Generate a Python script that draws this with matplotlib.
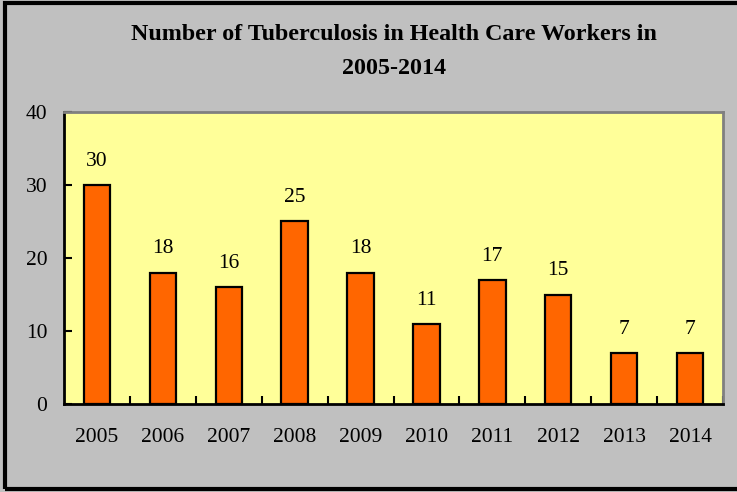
import matplotlib
matplotlib.use("Agg")
import matplotlib.pyplot as plt
from matplotlib.patches import Rectangle
from matplotlib.ticker import FixedLocator, NullFormatter

plt.rcParams["font.family"] = ["Liberation Serif", "DejaVu Serif"]

years = ["2005", "2006", "2007", "2008", "2009", "2010", "2011", "2012", "2013", "2014"]
cases = [30, 18, 16, 25, 18, 11, 17, 15, 7, 7]
title_lines = ["Number of Tuberculosis in Health Care Workers in", "2005-2014"]

W, H = 737, 492
fig = plt.figure(figsize=(W / 100, H / 100), dpi=100, facecolor="#C0C0C0")
ax = fig.add_axes([64 / W, 1 - 404 / H, (723 - 64) / W, (404 - 112) / H])
ax.set_facecolor("#FFFF99")

x = list(range(len(years)))
bars = ax.bar(x, cases, width=0.4, color="#FF6600", edgecolor="black", linewidth=1.6, zorder=3)
for b, v in zip(bars, cases):
    ax.annotate(str(v), (b.get_x() + b.get_width() / 2, v), xytext=(0, 17),
                textcoords="offset points", ha="center", va="center", fontsize=15.5)

ax.set_xlim(-0.5, len(years) - 0.5)
ax.set_ylim(0, 40)
ax.set_yticks([0, 10, 20, 30, 40])
ax.tick_params(axis="y", direction="in", length=6, width=1.5, labelsize=15.5, pad=12)
ax.set_xticks(x)
ax.set_xticklabels(years)
ax.tick_params(axis="x", which="major", length=0, labelsize=15.5, pad=17)
ax.xaxis.set_minor_locator(FixedLocator([i + 0.5 for i in x]))
ax.xaxis.set_minor_formatter(NullFormatter())
ax.tick_params(axis="x", which="minor", direction="in", length=6, width=1.5)

for s in ["left", "bottom"]:
    ax.spines[s].set_color("black")
    ax.spines[s].set_linewidth(2)
for s in ["top", "right"]:
    ax.spines[s].set_color("#808080")
    ax.spines[s].set_linewidth(2)

for line, ypx in zip(title_lines, [35, 68]):
    fig.text(394 / W, 1 - ypx / H, line, ha="center", va="center", fontsize=17.3,
             fontweight="bold")

fig.patches.append(Rectangle((5 / W, 3 / H), 1.0, 1 - 6 / H, transform=fig.transFigure,
                             fill=False, edgecolor="black", linewidth=3, zorder=10))

fig.savefig("out.png", dpi=100, facecolor=fig.get_facecolor())
